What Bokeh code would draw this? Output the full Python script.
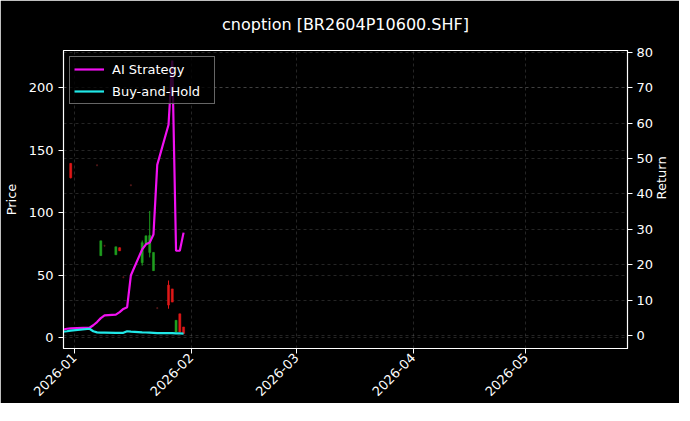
import math
from datetime import datetime
import pandas as pd
from bokeh.plotting import figure
from bokeh.models import (ColumnDataSource, Range1d, LinearAxis, FixedTicker,
                          DatetimeTickFormatter, Grid, Legend, LegendItem)
from bokeh.embed import file_html
from bokeh.resources import INLINE

# ---------------- data ----------------
title_text = "cnoption [BR2604P10600.SHF]"
dates = ["2025-12-29", "2025-12-30", "2025-12-31", "2026-01-05", "2026-01-06",
         "2026-01-07", "2026-01-08", "2026-01-09", "2026-01-12", "2026-01-13",
         "2026-01-14", "2026-01-15", "2026-01-16", "2026-01-19", "2026-01-20",
         "2026-01-21", "2026-01-22", "2026-01-23", "2026-01-26", "2026-01-27",
         "2026-01-28", "2026-01-29", "2026-01-30"]
ai_strategy = [1.8, 2.0, 2.1, 2.3, 3.0, 3.9, 5.0, 5.8, 6.0, 6.7, 7.6, 8.1, 17.1,
               24.4, 25.8, 26.3, 28.6, 48.2, 59.5, 77.6, 24.0, 24.0, 29.1]
buy_hold = [1.2, 1.3, 1.5, 2.0, 1.3, 1.0, 0.9, 0.9, 0.85, 0.85, 0.85, 1.3, 1.2,
            1.0, 0.95, 0.9, 0.85, 0.8, 0.75, 0.75, 0.7, 0.7, 0.65]

candle_dates = ["2025-12-31", "2026-01-07", "2026-01-08", "2026-01-09", "2026-01-12",
                "2026-01-13", "2026-01-14", "2026-01-16", "2026-01-19", "2026-01-20",
                "2026-01-21", "2026-01-22", "2026-01-23", "2026-01-26", "2026-01-27",
                "2026-01-28", "2026-01-29", "2026-01-30"]
opens  = [139.5, 138.0, 65.6, 73.5, 66.3, 72.0, 48.3, 122.0, 60.0, 74.8,
          68.2, 53.6, 23.6, 42.0, 39.0, 4.5, 19.0, 8.5]
closes = [128.0, 138.0, 77.5, 73.5, 72.7, 69.5, 48.3, 122.0, 76.0, 81.5,
          81.7, 68.2, 23.6, 26.0, 28.4, 13.8, 4.5, 3.2]
highs  = [139.8, 138.8, 77.5, 74.3, 72.7, 72.2, 49.1, 122.8, 77.7, 81.5,
          101.4, 68.2, 24.4, 45.7, 39.0, 13.8, 19.1, 8.5]
lows   = [127.4, 137.2, 65.6, 72.7, 66.3, 69.3, 47.5, 121.2, 57.6, 74.8,
          64.2, 53.6, 22.8, 23.1, 28.4, 4.5, 4.5, 3.2]

price_ticks = [0, 50, 100, 150, 200]
return_ticks = [0, 10, 20, 30, 40, 50, 60, 70, 80]
month_ticks = ["2026-01-01", "2026-02-01", "2026-03-01", "2026-04-01", "2026-05-01"]

# ---------------- styling ----------------
FONT = "DejaVu Sans"
UP = "#1f9e1f"
DOWN = "#e01818"
FLAT = "#5a1c1c"
AI_COLOR = "#f010f0"
BH_COLOR = "#20e8e8"
GRID = "#8a8a8a"
FRAME_W, FRAME_H = 564, 298

line_src = ColumnDataSource(dict(x=pd.to_datetime(dates), ai=ai_strategy, bh=buy_hold))
ccol = [UP if c > o else (DOWN if c < o else FLAT) for o, c in zip(opens, closes)]
candle_src = ColumnDataSource(dict(
    x=pd.to_datetime(candle_dates), o=opens, c=closes, h=highs, l=lows,
    top=[max(o, c) for o, c in zip(opens, closes)],
    bot=[min(o, c) for o, c in zip(opens, closes)], col=ccol))

month_ms = [pd.Timestamp(t).value // 10**6 for t in month_ticks]

p = figure(frame_width=FRAME_W, frame_height=FRAME_H, x_axis_type="datetime",
           x_range=Range1d(datetime(2025, 12, 29, 2), datetime(2026, 5, 28, 0)),
           y_range=Range1d(-8.75, 229.9),
           output_backend="svg", toolbar_location=None,
           min_border_left=63, min_border_right=40, min_border_top=50,
           min_border_bottom=50, background_fill_color="#000000",
           border_fill_color="#000000", outline_line_color="#ffffff",
           outline_line_width=1.2, title=title_text)
p.extra_y_ranges = {"ret": Range1d(-3.56, 80.45)}

p.title.text_color = "#ffffff"
p.title.text_font = FONT
p.title.text_font_size = "16px"
p.title.text_font_style = "normal"
p.title.align = "center"
p.title.vertical_align = "top"
p.title.standoff = 29

# grids
p.xgrid.ticker = FixedTicker(ticks=month_ms)
p.ygrid.ticker = FixedTicker(ticks=price_ticks)
for g in (p.xgrid, p.ygrid):
    g.grid_line_color = GRID
    g.grid_line_alpha = 0.45
    g.grid_line_dash = "3 3"
    g.grid_line_width = 0.6

# candles
p.segment(x0="x", y0="l", x1="x", y1="h", color="col", line_width=1, source=candle_src)
p.vbar(x="x", top="top", bottom="bot", width=0.55 * 86400000, fill_color="col",
       line_color="col", line_width=0.5, source=candle_src)

# lines on return axis
r_ai = p.line("x", "ai", source=line_src, color=AI_COLOR, line_width=2.2,
              y_range_name="ret")
r_bh = p.line("x", "bh", source=line_src, color=BH_COLOR, line_width=2.2,
              y_range_name="ret")

# axes
ax_right = LinearAxis(y_range_name="ret", axis_label="Return",
                      ticker=FixedTicker(ticks=return_ticks))
p.add_layout(ax_right, "right")
rgrid = Grid(dimension=1, ticker=FixedTicker(ticks=return_ticks), y_range_name="ret",
             grid_line_color=GRID, grid_line_alpha=0.45, grid_line_dash="3 3",
             grid_line_width=0.6)
p.add_layout(rgrid)

p.yaxis[0].axis_label = "Price"
p.yaxis[0].ticker = FixedTicker(ticks=price_ticks)
p.xaxis.ticker = FixedTicker(ticks=month_ms)
p.xaxis.formatter = DatetimeTickFormatter(
    days="%Y-%m", months="%Y-%m", years="%Y-%m", hours="%Y-%m",
    minutes="%Y-%m", seconds="%Y-%m", milliseconds="%Y-%m", microseconds="%Y-%m")
p.xaxis.major_label_orientation = math.pi / 4

for ax in p.axis:
    ax.axis_line_color = "#ffffff"
    ax.major_tick_line_color = "#ffffff"
    ax.minor_tick_line_color = None
    ax.major_tick_in = 0
    ax.major_tick_out = 5
    ax.major_label_standoff = 5
    ax.major_label_text_color = "#ffffff"
    ax.major_label_text_font = FONT
    ax.major_label_text_font_size = "13px"
    ax.axis_label_text_color = "#ffffff"
    ax.axis_label_text_font = FONT
    ax.axis_label_text_font_size = "13px"
    ax.axis_label_text_font_style = "normal"

p.xaxis.major_label_standoff = 2
p.yaxis[0].axis_label_standoff = 7
ax_right.major_label_standoff = 4
ax_right.axis_label_standoff = 5
ax_right.axis_label_orientation = math.pi / 2

legend = Legend(items=[LegendItem(label="AI Strategy", renderers=[r_ai]),
                       LegendItem(label="Buy-and-Hold", renderers=[r_bh])],
                location="top_left")
legend.background_fill_color = "#000000"
legend.background_fill_alpha = 0.8
legend.border_line_color = "#cccccc"
legend.border_line_width = 1
legend.label_text_color = "#ffffff"
legend.label_text_font = FONT
legend.label_text_font_size = "13px"
legend.margin = 6
legend.padding = 4
legend.spacing = 6
legend.glyph_width = 30
legend.glyph_height = 16
legend.label_height = 16
legend.label_width = 98
legend.label_standoff = 8
p.add_layout(legend)

open("out.html", "w").write(file_html(p, INLINE))
